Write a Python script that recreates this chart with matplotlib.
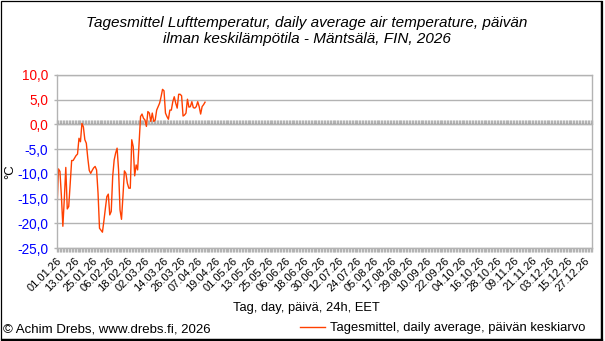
import datetime as dt
import matplotlib
matplotlib.use("Agg")
import matplotlib.pyplot as plt
from matplotlib.lines import Line2D
from matplotlib.patches import Rectangle

# Daily mean air temperature, Mäntsälä 2026, starting 01.01.2026 (°C)
temps = [
    -17.3, -9.0, -9.5, -14.5, -20.6, -15.0, -8.7, -17.1, -16.6, -12.0,
    -7.3, -7.3, -6.8, -6.3, -6.0, -2.8, -3.5, 0.2, -0.5, -3.1,
    -3.8, -6.8, -9.3, -9.9, -9.3, -8.8, -8.5, -9.2, -13.9, -21.0,
    -21.4, -21.8, -19.5, -17.0, -14.6, -14.1, -18.3, -17.6, -10.5, -7.2,
    -5.8, -4.8, -9.2, -17.3, -19.2, -14.5, -9.4, -9.9, -11.9, -12.9,
    -12.9, -3.1, -4.5, -10.4, -8.2, -9.2, -3.8, 1.6, 2.1, 1.25,
    0.9, -0.4, 2.6, 2.3, 0.6, 2.3, 0.6, 0.9, 2.9, 3.6,
    4.3, 5.6, 7.1, 6.8, 2.3, 1.6, 1.05, 2.9, 2.9, 4.6,
    5.6, 4.3, 3.3, 6.1, 6.1, 5.8, 1.7, 1.9, 2.3, 5.1,
    3.5, 3.6, 4.6, 3.4, 3.3, 3.6, 4.6, 3.6, 2.1, 3.6,
    4.0, 4.5,
]
days = list(range(len(temps)))

y_ticks = [10, 5, 0, -5, -10, -15, -20, -25]
y_labels = ["10,0", "5,0", "0,0", "-5,0", "-10,0", "-15,0", "-20,0", "-25,0"]

start = dt.date(2026, 1, 1)
n_days = 365
x_ticks = list(range(0, n_days, 12))
x_labels = [(start + dt.timedelta(days=d)).strftime("%d.%m.%y") for d in x_ticks]

title = ("Tagesmittel Lufttemperatur, daily average air temperature, päivän\n"
         "ilman keskilämpötila - Mäntsälä, FIN, 2026")
x_title = "Tag, day, päivä, 24h, EET"
y_title = "°C"
series_name = "Tagesmittel, daily average, päivän keskiarvo"
credit = "© Achim Drebs, www.drebs.fi, 2026"

plt.rcParams["font.family"] = ["Liberation Sans", "DejaVu Sans"]

W, H = 605, 341
fig = plt.figure(figsize=(W / 100, H / 100), dpi=100)
fig.patch.set_facecolor("white")

def fx(px):
    return px / W

def fy(py):
    return 1 - py / H

ax = fig.add_axes([fx(57), fy(248), fx(592) - fx(57), fy(75) - fy(248)])
ymin, ymax = -25, 10
ax.set_xlim(0, n_days)
ax.set_ylim(ymin, ymax)

grid_c = "#b3b3b3"
for s in ax.spines.values():
    s.set_color(grid_c)
    s.set_linewidth(1)

ax.set_yticks(y_ticks)
ax.set_yticklabels(y_labels, fontsize=9.8)
for lbl, v in zip(ax.get_yticklabels(), y_ticks):
    lbl.set_color("#ff0000" if v >= 0 else "#0000ff")
ax.tick_params(axis="y", length=2, width=1, color=grid_c, pad=4.5)
ax.yaxis.grid(True, color=grid_c, linewidth=1)
ax.set_axisbelow(True)

ax.set_xticks(x_ticks)
ax.set_xticklabels(x_labels, rotation=45, ha="right", va="top",
                   rotation_mode="anchor", fontsize=8)
ax.set_xticks(range(0, n_days + 1), minor=True)
ax.tick_params(axis="x", which="both", length=3, width=1, color=grid_c, pad=2.5)

# daily tick marks along the zero line
zero_axis = ax.secondary_xaxis((0 - ymin) / (ymax - ymin))
zero_axis.set_xticks(x_ticks)
zero_axis.set_xticks(range(0, n_days + 1), minor=True)
zero_axis.tick_params(axis="x", which="both", length=3, width=1,
                      color=grid_c, labelbottom=False, labeltop=False)
zero_axis.spines["bottom"].set_color(grid_c)
zero_axis.xaxis.set_ticklabels([])

line, = ax.plot(days, temps, color="#ff4000", linewidth=1.0)

fig.text(fx(10), fy(172), y_title, ha="center", va="center", fontsize=9.5,
         rotation=90)
fig.text(fx(306), fy(308), x_title, ha="center", va="center", fontsize=9.3)
fig.text(fx(307), fy(31), title, ha="center", va="center", fontsize=11,
         style="italic", linespacing=1.2)
fig.text(fx(3), fy(330), credit, ha="left", va="center", fontsize=9.5)

fig.legend([line], [series_name], loc="center left",
           bbox_to_anchor=(fx(295), fy(328)), frameon=False, fontsize=9.4,
           handlelength=1.9, handletextpad=0.4, borderaxespad=0)

# outer frame with a heavier right/bottom edge
fig.add_artist(Rectangle((fx(0.5), fy(339)), fx(601) - fx(0.5), fy(0.5) - fy(339),
                         transform=fig.transFigure, fill=False,
                         edgecolor="black", linewidth=0.9))
fig.add_artist(Line2D([fx(602), fx(602)], [fy(1.5), fy(340)],
                      transform=fig.transFigure, color="black", linewidth=1.6))
fig.add_artist(Line2D([fx(1.5), fx(602)], [fy(340), fy(340)],
                      transform=fig.transFigure, color="black", linewidth=1.6))

fig.savefig("out.png", dpi=100)
